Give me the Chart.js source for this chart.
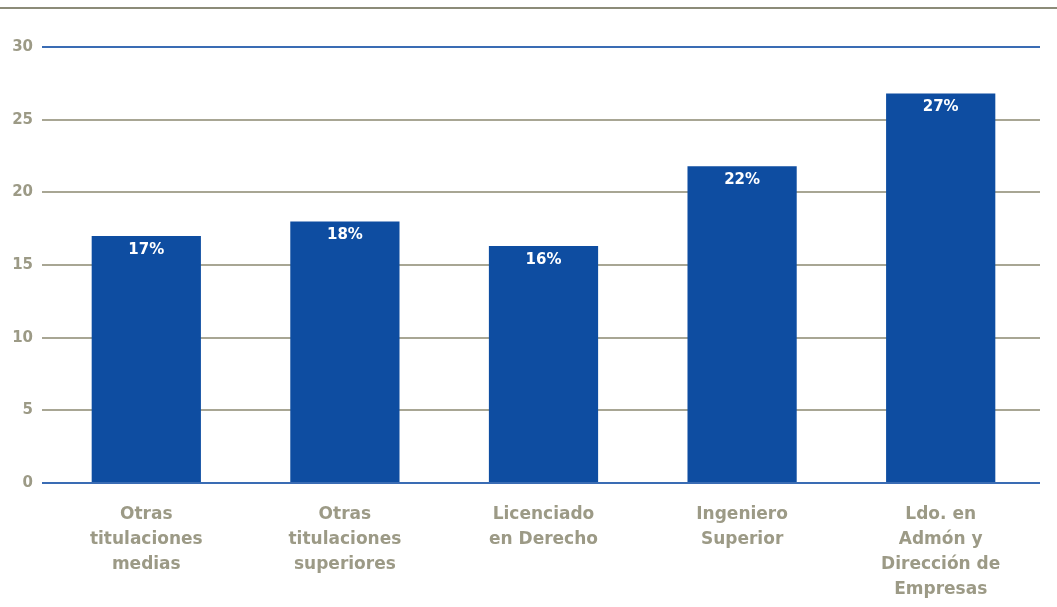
<!DOCTYPE html>
<html>
<head>
<meta charset="utf-8">
<script src="https://cdn.jsdelivr.net/npm/chart.js@4"></script>
<style>
  html, body { margin: 0; padding: 0; background: #fff; }
  #wrap { width: 1057px; height: 607px; position: relative; }
</style>
</head>
<body>
<div id="wrap"><canvas id="chart"></canvas></div>
<script>
var categories = [
  ['Otras', 'titulaciones', 'medias'],
  ['Otras', 'titulaciones', 'superiores'],
  ['Licenciado', 'en Derecho'],
  ['Ingeniero', 'Superior'],
  ['Ldo. en', 'Admón y', 'Dirección de', 'Empresas']
];
var values = [17, 18, 16.3, 21.8, 26.8];
var valueLabels = ['17%', '18%', '16%', '22%', '27%'];
var yTicks = [0, 5, 10, 15, 20, 25, 30];

var BLUE = '#0e4da1';
var LINE_BLUE = '#3a6cb4';
var GREY = '#a8a694';
var TEXT = '#9c9a86';

// the rule under the (cut off) heading
var headerRule = {
  id: 'headerRule',
  beforeDraw: function(chart) {
    var ctx = chart.ctx;
    ctx.save();
    ctx.strokeStyle = '#8c8b78';
    ctx.lineWidth = 2;
    ctx.beginPath();
    ctx.moveTo(0, 8);
    ctx.lineTo(chart.width, 8);
    ctx.stroke();
    ctx.restore();
  }
};

// percentage inside top of each bar
var barLabels = {
  id: 'barLabels',
  afterDatasetsDraw: function(chart) {
    var ctx = chart.ctx;
    var meta = chart.getDatasetMeta(0);
    ctx.save();
    ctx.fillStyle = '#ffffff';
    ctx.font = 'bold 15px "DejaVu Sans", sans-serif';
    ctx.textAlign = 'center';
    ctx.textBaseline = 'middle';
    meta.data.forEach(function(bar, i) {
      ctx.fillText(valueLabels[i], bar.x, bar.y + 14);
    });
    ctx.restore();
  }
};

function lineColour(c) {
  var v = c.tick ? c.tick.value : null;
  return (v === 0 || v === 30) ? LINE_BLUE : GREY;
}

new Chart(document.getElementById('chart'), {
  type: 'bar',
  data: {
    labels: categories,
    datasets: [{
      data: values,
      backgroundColor: BLUE,
      barPercentage: 0.55,
      categoryPercentage: 1
    }]
  },
  options: {
    responsive: true,
    maintainAspectRatio: false,
    animation: false,
    layout: { padding: { top: 47, right: 17, left: 0, bottom: 0 } },
    plugins: {
      legend: { display: false },
      tooltip: { enabled: false }
    },
    scales: {
      x: {
        grid: { display: false },
        border: { display: false },
        ticks: {
          color: TEXT,
          font: { family: '"DejaVu Sans", sans-serif', size: 17, weight: 'bold', lineHeight: 1.47 },
          padding: 11,
          maxRotation: 0,
          autoSkip: false
        },
        afterFit: function(scale) { scale.height = 124; }
      },
      y: {
        min: 0,
        max: 30,
        afterBuildTicks: function(scale) {
          scale.ticks = yTicks.map(function(v) { return { value: v }; });
        },
        grid: {
          drawTicks: true,
          tickLength: 5,
          lineWidth: 2,
          color: lineColour,
          tickColor: lineColour
        },
        border: { display: false },
        ticks: {
          color: TEXT,
          font: { family: '"DejaVu Sans", sans-serif', size: 15, weight: 'bold' },
          padding: 9
        },
        afterFit: function(scale) { scale.width = 47; }
      }
    }
  },
  plugins: [headerRule, barLabels]
});
</script>
</body>
</html>
